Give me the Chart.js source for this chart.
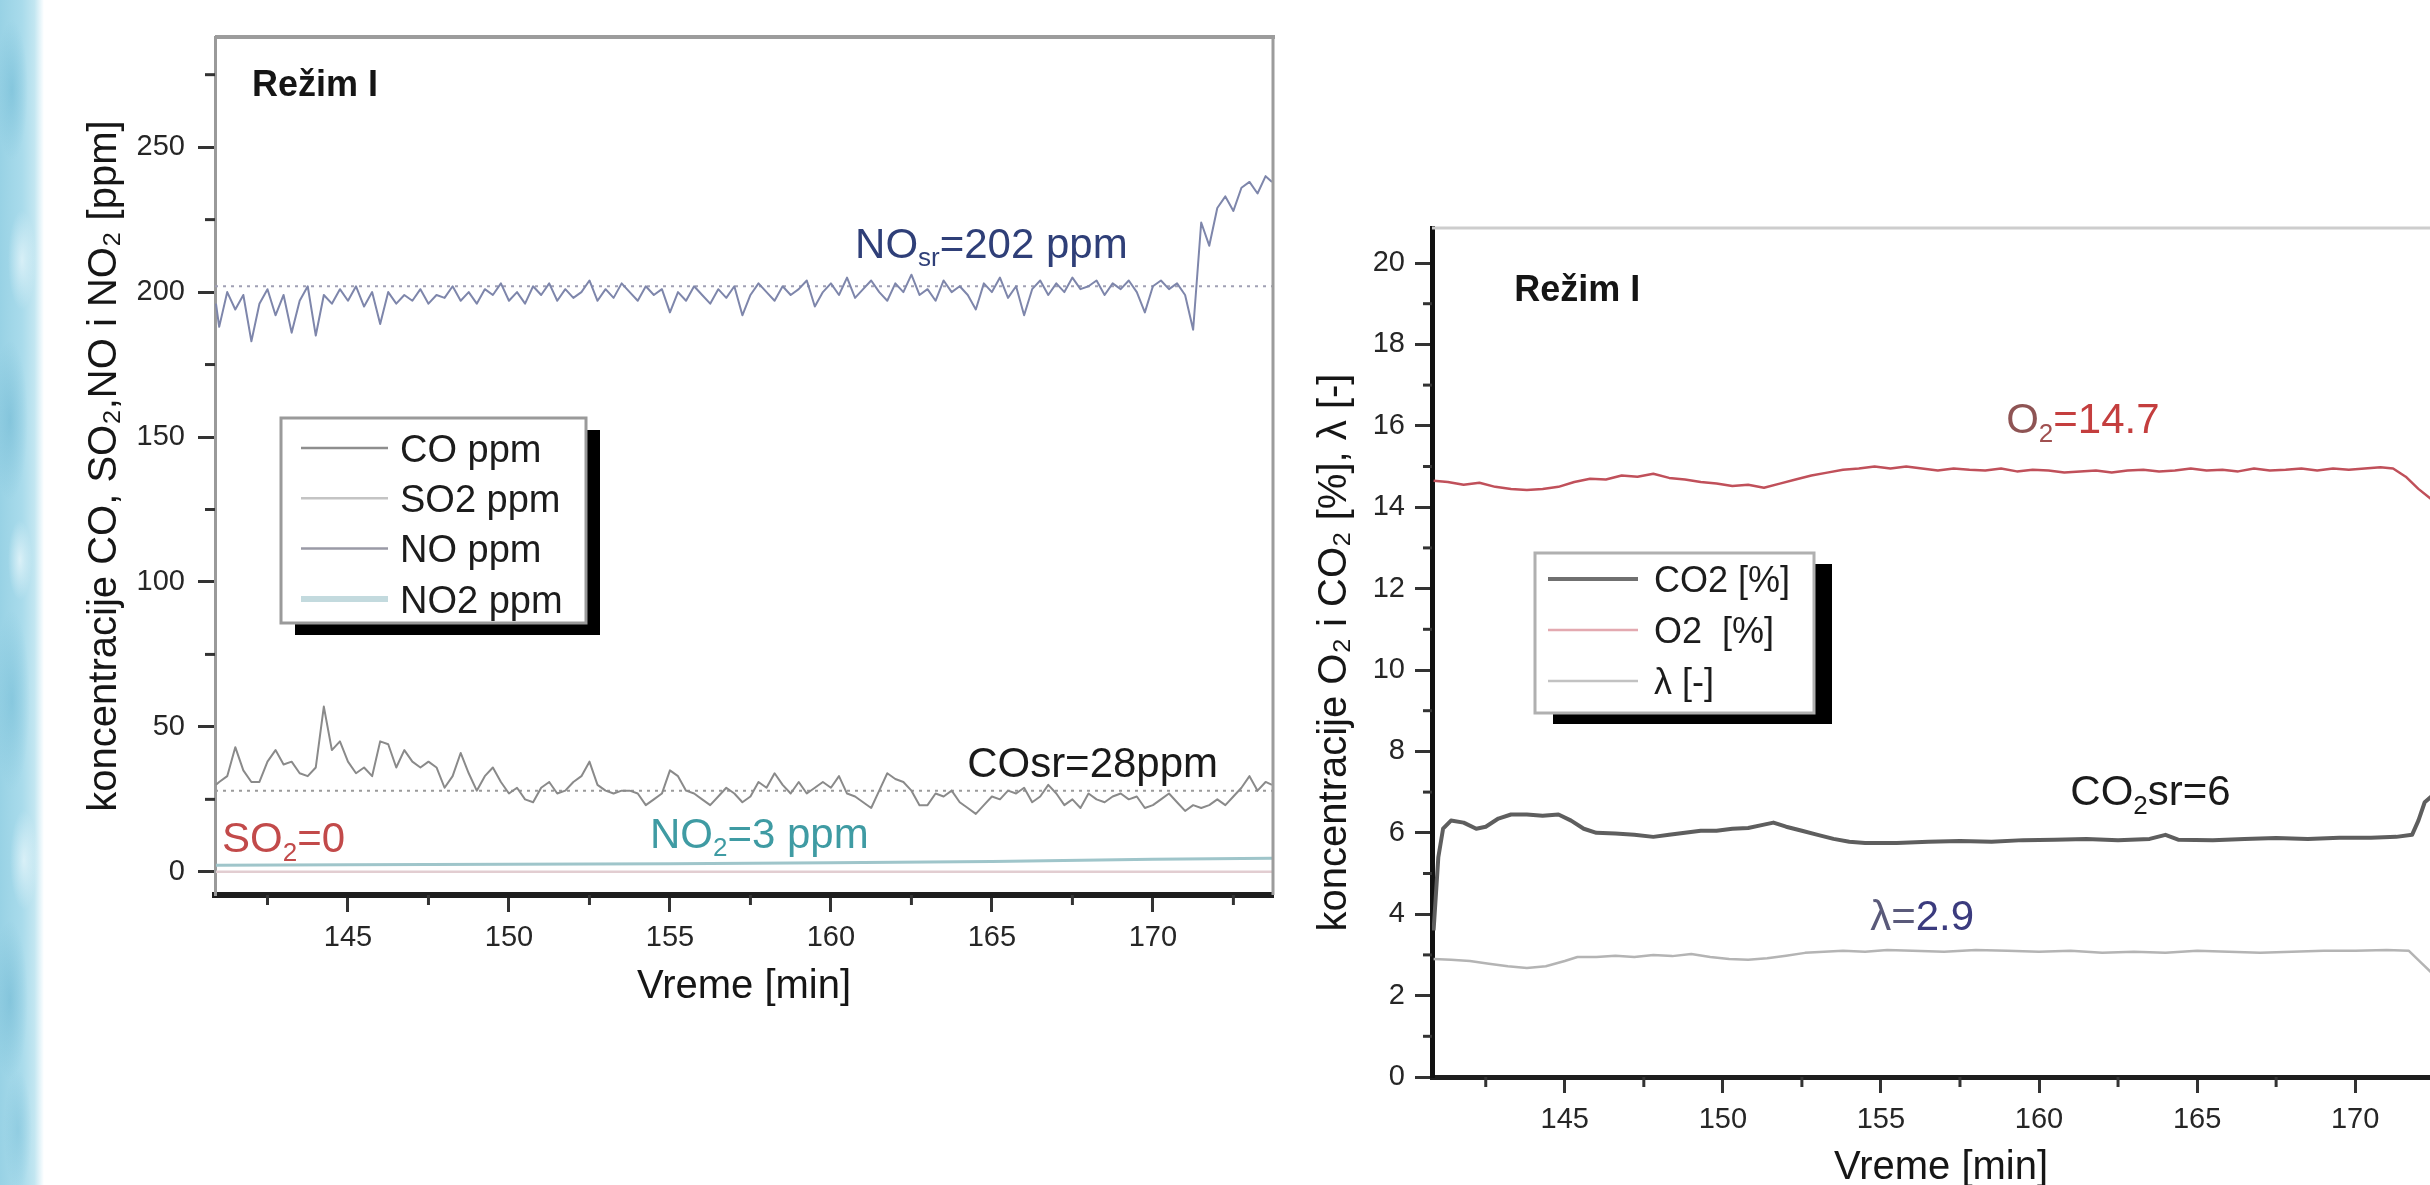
<!DOCTYPE html>
<html><head><meta charset="utf-8">
<script src="https://cdn.jsdelivr.net/npm/chart.js@4.4.1/dist/chart.umd.min.js"></script>
<style>
html,body{margin:0;padding:0;width:2430px;height:1185px;overflow:hidden;background:#fff;}
#strip{position:absolute;left:0;top:0;width:44px;height:1185px;
background:
 radial-gradient(ellipse 16px 70px at 12px 90px, rgba(110,185,212,0.55), rgba(110,185,212,0) 100%),
 radial-gradient(ellipse 14px 50px at 22px 260px, rgba(235,248,252,0.7), rgba(235,248,252,0) 100%),
 radial-gradient(ellipse 18px 80px at 10px 420px, rgba(105,180,208,0.5), rgba(105,180,208,0) 100%),
 radial-gradient(ellipse 12px 40px at 20px 560px, rgba(240,250,253,0.7), rgba(240,250,253,0) 100%),
 radial-gradient(ellipse 18px 90px at 12px 700px, rgba(110,185,212,0.5), rgba(110,185,212,0) 100%),
 radial-gradient(ellipse 14px 50px at 24px 860px, rgba(235,248,252,0.7), rgba(235,248,252,0) 100%),
 radial-gradient(ellipse 18px 80px at 10px 1000px, rgba(105,180,208,0.5), rgba(105,180,208,0) 100%),
 radial-gradient(ellipse 14px 60px at 18px 1130px, rgba(120,190,215,0.45), rgba(120,190,215,0) 100%),
 linear-gradient(90deg,#98d2e5 0%,#a9dbeb 50%,#c2e6f1 78%,#ebf7fb 93%,#ffffff 100%);}
#c1{position:absolute;left:0;top:0;}
#c2{position:absolute;left:1280px;top:150px;}
</style></head><body>
<div id="strip"></div>
<canvas id="c1" width="1330" height="1060"></canvas>
<canvas id="c2" width="1250" height="1100"></canvas>
<script>
// ---------------- DATA: left chart (ppm) ----------------
const L_TIME = [140.9,
 141,141.25,141.5,141.75, 142,142.25,142.5,142.75, 143,143.25,143.5,143.75, 144,144.25,144.5,144.75,
 145,145.25,145.5,145.75, 146,146.25,146.5,146.75, 147,147.25,147.5,147.75, 148,148.25,148.5,148.75,
 149,149.25,149.5,149.75, 150,150.25,150.5,150.75, 151,151.25,151.5,151.75, 152,152.25,152.5,152.75,
 153,153.25,153.5,153.75, 154,154.25,154.5,154.75, 155,155.25,155.5,155.75, 156,156.25,156.5,156.75,
 157,157.25,157.5,157.75, 158,158.25,158.5,158.75, 159,159.25,159.5,159.75, 160,160.25,160.5,160.75,
 161,161.25,161.5,161.75, 162,162.25,162.5,162.75, 163,163.25,163.5,163.75, 164,164.25,164.5,164.75,
 165,165.25,165.5,165.75, 166,166.25,166.5,166.75, 167,167.25,167.5,167.75, 168,168.25,168.5,168.75,
 169,169.25,169.5,169.75, 170,170.25,170.5,170.75, 171,171.25,171.5,171.75, 172,172.25,172.5,172.75,
 173,173.25,173.5, 173.7];
const NO_PPM = [196,
 188,200,194,199, 183,196,201,192, 199,186,197,202, 185,199,196,201,
 197,202,195,200, 189,200,196,199, 197,201,196,199, 198,202,197,200,
 196,201,199,203, 197,200,196,202, 199,203,197,201, 198,200,204,197,
 201,198,203,200, 197,202,199,201, 193,200,197,202, 199,196,201,198,
 202,192,199,203, 200,197,202,199, 201,204,195,200, 203,199,205,198,
 201,204,200,197, 203,200,206,199, 201,197,204,200, 202,199,194,203,
 200,205,198,202, 192,201,204,199, 203,200,205,201, 202,204,199,203,
 201,204,200,193, 202,204,201,203, 199,187,224,216, 229,233,228,236,
 238,234,240, 238];
const CO_PPM = [30,
 31,33,43,35, 31,31,38,42, 37,38,34,33, 36,57,42,45,
 38,34,36,33, 45,44,36,42, 38,36,38,36, 29,33,41,34,
 28,33,36,31, 27,29,25,24, 29,31,27,28, 31,33,38,30,
 28,27,28,28, 27,23,25,27, 35,33,28,27, 25,23,26,29,
 27,24,26,31, 29,34,30,27, 31,27,29,31, 29,33,27,26,
 24,22,28,34, 32,31,28,23, 23,27,26,28, 24,22,20,23,
 26,25,28,27, 29,24,26,30, 27,23,25,22, 27,25,24,26,
 27,25,26,22, 23,25,27,24, 21,23,22,23, 25,23,26,29,
 33,28,31, 30];
const NO2_TIME = [140.9,145,150,155,160,165,170,173.7];
const NO2_PPM  = [2.3,2.4,2.6,2.8,3.1,3.6,4.3,4.7];
const SO2_TIME = [140.9,173.7];
const SO2_PPM  = [0,0];
const CO_AVG = 28, NO_AVG = 202;
const L_X_RANGE = [140.87,173.73];
const L_Y_RANGE = [-8,288];
const L_X_TICKS = [145,150,155,160,165,170];
const L_X_MINOR = [142.5,147.5,152.5,157.5,162.5,167.5,172.5];
const L_Y_TICKS = [0,50,100,150,200,250];
const L_Y_MINOR = [25,75,125,175,225,275];

// ---------------- DATA: right chart (%) ----------------
const CO2_TIME = [140.85,141.0,141.15,141.4,141.8,142.2,142.5,142.9,143.3,143.8,144.3,144.8,145.2,145.6,146.0,146.6,147.2,147.8,148.3,148.8,149.3,149.8,150.3,150.8,151.3,151.6,152.0,152.5,153.0,153.5,154.0,154.5,155.5,156.5,157.5,158.5,159.5,160.5,161.5,162.5,163.5,164.0,164.4,165.5,166.5,167.5,168.5,169.5,170.5,171.3,171.8,172.0,172.2,172.5,172.8];
const CO2_PCT  = [3.6,5.4,6.1,6.3,6.25,6.1,6.15,6.35,6.45,6.45,6.42,6.45,6.3,6.1,6.0,5.98,5.95,5.9,5.95,6.0,6.05,6.05,6.1,6.12,6.2,6.25,6.15,6.05,5.95,5.85,5.78,5.75,5.75,5.78,5.8,5.78,5.82,5.83,5.85,5.82,5.85,5.95,5.83,5.82,5.85,5.87,5.85,5.88,5.88,5.9,5.95,6.3,6.75,6.95,7.0];
const O2_TIME = [140.85,141.3,141.8,142.3,142.8,143.3,143.8,144.3,144.8,145.3,145.8,146.3,146.8,147.3,147.8,148.3,148.8,149.3,149.8,150.3,150.8,151.3,151.8,152.3,152.8,153.3,153.8,154.3,154.8,155.3,155.8,156.3,156.8,157.3,157.8,158.3,158.8,159.3,159.8,160.3,160.8,161.3,161.8,162.3,162.8,163.3,163.8,164.3,164.8,165.3,165.8,166.3,166.8,167.3,167.8,168.3,168.8,169.3,169.8,170.3,170.8,171.2,171.6,172.0,172.4,172.8];
const O2_PCT  = [14.65,14.62,14.55,14.6,14.5,14.45,14.42,14.45,14.5,14.62,14.7,14.68,14.78,14.75,14.82,14.72,14.68,14.62,14.58,14.52,14.55,14.48,14.58,14.68,14.78,14.85,14.92,14.95,15.0,14.95,15.0,14.95,14.9,14.95,14.92,14.9,14.95,14.88,14.92,14.9,14.85,14.88,14.9,14.85,14.9,14.92,14.88,14.9,14.95,14.9,14.92,14.88,14.95,14.9,14.92,14.95,14.9,14.95,14.92,14.95,14.98,14.95,14.75,14.45,14.2,14.1];
const LAM_TIME = [140.85,141.4,142.0,142.6,143.2,143.8,144.4,145.0,145.4,146.0,146.6,147.2,147.8,148.4,149.0,149.6,150.2,150.8,151.4,152.0,152.6,153.2,153.8,154.5,155.2,156,157,158,159,160,161,162,163,164,165,166,167,168,169,170,171,171.7,172.1,172.5,172.8];
const LAMBDA   = [2.9,2.88,2.85,2.78,2.72,2.68,2.72,2.85,2.95,2.95,2.98,2.95,3.0,2.97,3.02,2.95,2.9,2.88,2.92,2.98,3.05,3.08,3.1,3.08,3.12,3.1,3.08,3.12,3.1,3.08,3.1,3.05,3.08,3.05,3.1,3.08,3.05,3.08,3.1,3.1,3.12,3.1,2.8,2.5,2.4];
const R_X_RANGE = [140.8,173.0];
const R_Y_RANGE = [0,20.86];
const R_X_TICKS = [145,150,155,160,165,170];
const R_X_MINOR = [142.5,147.5,152.5,157.5,162.5,167.5,172.5];
const R_Y_TICKS = [0,2,4,6,8,10,12,14,16,18,20];
const R_Y_MINOR = [1,3,5,7,9,11,13,15,17,19];

// ---------------- rendering ----------------
const FONT = "'Liberation Sans', Arial, sans-serif";
Chart.defaults.font.family = FONT;
function pts(t, v){ return t.map((x,i)=>({x:x, y:v[i]})); }
function flat(range, v){ return [{x:range[0],y:v},{x:range[1],y:v}]; }

function drawRich(ctx, x, yc, parts, size, bold){
  let cx = x;
  parts.forEach(p=>{
    const s = p.sub ? Math.round(size*0.62) : size;
    ctx.font = (bold?'bold ':'') + s + 'px ' + FONT;
    ctx.fillStyle = p.color;
    ctx.textAlign = 'left'; ctx.textBaseline = 'alphabetic';
    const by = yc + size*0.36 + (p.sub ? size*0.2 : 0);
    ctx.fillText(p.t, cx, by);
    cx += ctx.measureText(p.t).width;
  });
}

const decor = {
  id:'decor',
  afterDraw(chart){
    const o = chart.options.plugins.decor; if(!o) return;
    const ctx = chart.ctx, ca = chart.chartArea, xs = chart.scales.x, ys = chart.scales.y;
    ctx.save();
    (o.frame||[]).forEach(f=>{
      ctx.strokeStyle=f.color; ctx.lineWidth=f.width; ctx.beginPath();
      if(f.side==='top'){ctx.moveTo(ca.left,ca.top);ctx.lineTo(ca.right+f.width/2,ca.top);}
      if(f.side==='right'){ctx.moveTo(ca.right,ca.top);ctx.lineTo(ca.right,ca.bottom);}
      ctx.stroke();
    });
    ctx.strokeStyle=o.tickColor; ctx.lineWidth=3;
    o.minorX.forEach(v=>{const px=xs.getPixelForValue(v);ctx.beginPath();ctx.moveTo(px,ca.bottom);ctx.lineTo(px,ca.bottom+o.minorLenX);ctx.stroke();});
    o.minorY.forEach(v=>{const py=ys.getPixelForValue(v);ctx.beginPath();ctx.moveTo(ca.left-o.minorLenY,py);ctx.lineTo(ca.left,py);ctx.stroke();});
    const L = o.legend;
    if(L){
      ctx.fillStyle='#000'; ctx.fillRect(L.x+L.sx, L.y+L.sy, L.w, L.h);
      ctx.fillStyle='#fff'; ctx.fillRect(L.x, L.y, L.w, L.h);
      ctx.strokeStyle=L.border; ctx.lineWidth=3; ctx.strokeRect(L.x, L.y, L.w, L.h);
      const items = chart.data.datasets.filter(d=>d.legendLine);
      items.forEach((d,i)=>{
        const y = L.y + L.first + i*L.gap;
        ctx.strokeStyle=d.legendLine.color; ctx.lineWidth=d.legendLine.width;
        ctx.beginPath(); ctx.moveTo(L.x+L.l1,y); ctx.lineTo(L.x+L.l2,y); ctx.stroke();
        drawRich(ctx, L.x+L.tx, y, [{t:d.label,color:'#1c1c1c'}], L.size, false);
      });
    }
    (o.notes||[]).forEach(n=>drawRich(ctx, xs.getPixelForValue(n.x), ys.getPixelForValue(n.y), n.parts, n.size, n.bold));
    ctx.restore();
  }
};

function axisX(range, ticks, height, borderW, tl, pad){
  return {type:'linear', min:range[0], max:range[1],
    afterBuildTicks:s=>{s.ticks=ticks.map(v=>({value:v}));},
    afterFit:s=>{s.height=height;},
    border:{display:true,color:'#1e1e1e',width:borderW},
    grid:{display:true,drawOnChartArea:false,drawTicks:true,tickLength:tl,tickWidth:3,tickColor:'#333'},
    ticks:{padding:pad,autoSkip:false,maxRotation:0,font:{family:FONT,size:29},color:'#262626',callback:v=>String(v)},
    title:{display:true,text:'Vreme [min]',font:{family:FONT,size:40},color:'#161616',padding:{top:0,bottom:0}}
  };
}
function axisY(range, ticks, width, bColor, bW, tl, pad, title, tpad){
  return {type:'linear', min:range[0], max:range[1],
    afterBuildTicks:s=>{s.ticks=ticks.map(v=>({value:v}));},
    afterFit:s=>{s.width=width;},
    border:{display:true,color:bColor,width:bW},
    grid:{display:true,drawOnChartArea:false,drawTicks:true,tickLength:tl,tickWidth:3,tickColor:'#333'},
    ticks:{padding:pad,autoSkip:false,font:{family:FONT,size:29},color:'#262626',callback:v=>String(v)},
    title:{display:true,text:title,font:{family:FONT,size:40},color:'#161616',padding:{top:tpad,bottom:0}}
  };
}

const line = (label, data, color, w, extra) => Object.assign({label, data, borderColor:color, borderWidth:w, pointRadius:0, tension:0, fill:false, borderJoinStyle:'round'}, extra||{});

new Chart(document.getElementById('c1'), {
  type:'line',
  data:{datasets:[
    line('CO ppm', pts(L_TIME, CO_PPM), '#8a8a8a', 2, {legendLine:{color:'#8e8e8e',width:2.5}}),
    line('SO2 ppm', pts(SO2_TIME, SO2_PPM), '#e2cdd1', 2.5, {legendLine:{color:'#c4c4c4',width:2.5}}),
    line('NO ppm', pts(L_TIME, NO_PPM), '#7e86ab', 2, {legendLine:{color:'#9a9aa6',width:2.5}}),
    line('NO2 ppm', pts(NO2_TIME, NO2_PPM), '#9fc5ca', 3, {legendLine:{color:'#c3dade',width:6}}),
    line('COavg', flat(L_X_RANGE, CO_AVG), '#9a9a9a', 2, {borderDash:[3,5]}),
    line('NOavg', flat(L_X_RANGE, NO_AVG), '#a0a0b4', 2, {borderDash:[3,5]})
  ]},
  options:{
    responsive:false, animation:false, devicePixelRatio:1,
    layout:{padding:{left:0,top:37,right:57,bottom:49}},
    plugins:{legend:{display:false}, tooltip:{enabled:false},
      decor:{
        frame:[{side:'top',color:'#9c9c9c',width:4},{side:'right',color:'#9c9c9c',width:3}],
        tickColor:'#333', minorX:L_X_MINOR, minorY:L_Y_MINOR, minorLenX:10, minorLenY:10,
        legend:{x:281,y:418,w:305,h:205,sx:14,sy:12,border:'#9a9a9a',first:30,gap:50.3,l1:20,l2:107,tx:119,size:38},
        notes:[
          {x:142.02,y:272,size:36,bold:true,parts:[{t:'Režim I',color:'#151515'}]},
          {x:160.75,y:217,size:42,parts:[{t:'NO',color:'#2f3f78'},{t:'sr',sub:true,color:'#2f3f78'},{t:'=202 ppm',color:'#2f3f78'}]},
          {x:164.23,y:38,size:42,parts:[{t:'COsr=28ppm',color:'#1a1a1a'}]},
          {x:141.09,y:12,size:42,parts:[{t:'SO',color:'#c24a4a'},{t:'2',sub:true,color:'#c24a4a'},{t:'=0',color:'#c24a4a'}]},
          {x:154.38,y:13.4,size:42,parts:[{t:'NO',color:'#3f9ba3'},{t:'2',sub:true,color:'#3f9ba3'},{t:'=3 ppm',color:'#3f9ba3'}]}
        ]}
    },
    scales:{
      x:axisX(L_X_RANGE, L_X_TICKS, 116, 6, 17, 9),
      y:axisY(L_Y_RANGE, L_Y_TICKS, 215, '#9a9a9a', 3, 17, 13, 'koncentracije CO, SO₂,NO i NO₂ [ppm]', 81)
    }
  },
  plugins:[decor]
});

new Chart(document.getElementById('c2'), {
  type:'line',
  data:{datasets:[
    line('CO2 [%]', pts(CO2_TIME, CO2_PCT), '#5e5e5e', 4, {legendLine:{color:'#707070',width:4}}),
    line('O2  [%]', pts(O2_TIME, O2_PCT), '#c0505a', 2.5, {legendLine:{color:'#e3a9b0',width:2.5}}),
    line('λ [-]', pts(LAM_TIME, LAMBDA), '#b4b4b4', 2.5, {legendLine:{color:'#c2c2c2',width:2.5}})
  ]},
  options:{
    responsive:false, animation:false, devicePixelRatio:1,
    layout:{padding:{left:0,top:78,right:80,bottom:58}},
    plugins:{legend:{display:false}, tooltip:{enabled:false},
      decor:{
        frame:[{side:'top',color:'#cdcdcd',width:3}],
        tickColor:'#333', minorX:R_X_MINOR, minorY:R_Y_MINOR, minorLenX:10, minorLenY:9,
        legend:{x:255,y:403,w:279,h:160,sx:18,sy:11,border:'#b0b0b0',first:26,gap:51,l1:13,l2:103,tx:119,size:36},
        notes:[
          {x:143.4,y:19.39,size:36,bold:true,parts:[{t:'Režim I',color:'#151515'}]},
          {x:158.96,y:16.19,size:42,parts:[{t:'O',color:'#8e5454'},{t:'2',sub:true,color:'#a05050'},{t:'=14.7',color:'#c43e3e'}]},
          {x:160.99,y:7.05,size:42,parts:[{t:'CO',color:'#1a1a1a'},{t:'2',sub:true,color:'#1a1a1a'},{t:'sr=6',color:'#1a1a1a'}]},
          {x:154.66,y:3.98,size:42,parts:[{t:'λ=',color:'#5a5a7a'},{t:'2.9',color:'#3b3b7e'}]}
        ]}
    },
    scales:{
      x:axisX(R_X_RANGE, R_X_TICKS, 115, 5, 16, 10),
      y:axisY(R_Y_RANGE, R_Y_TICKS, 152, '#111', 5, 17, 10, 'koncentracije O₂ i CO₂ [%], λ [-]', 31)
    }
  },
  plugins:[decor]
});
</script>
</body></html>
